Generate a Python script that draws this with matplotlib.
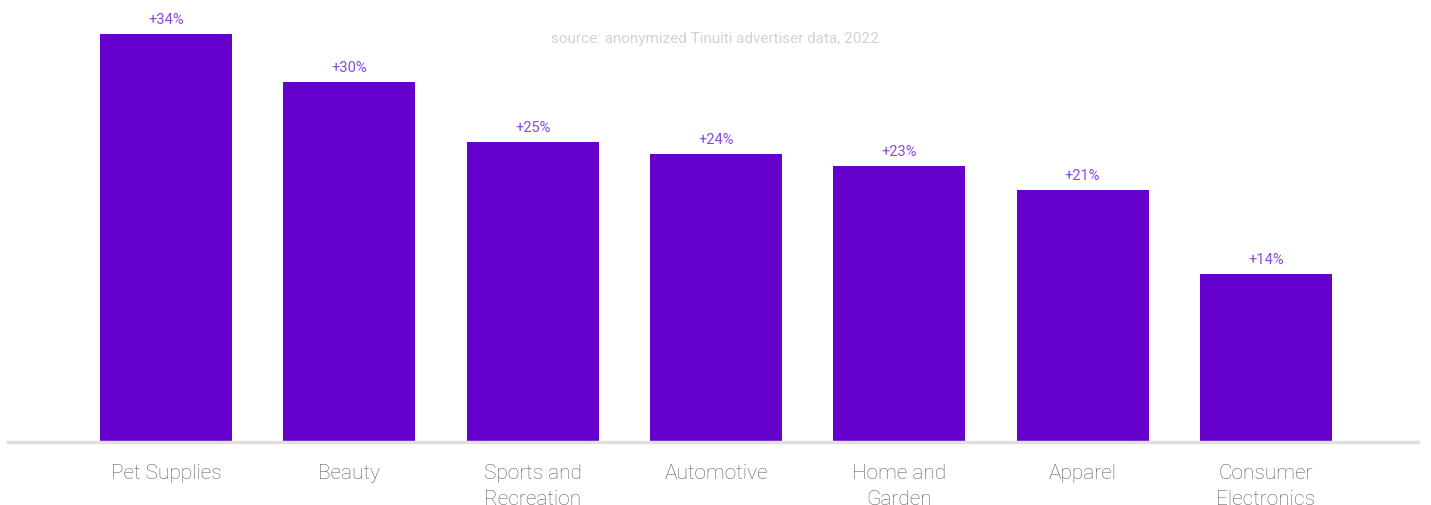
import numpy as np
import matplotlib.pyplot as plt

categories = ["Pet Supplies", "Beauty", "Sports and\nRecreation", "Automotive",
              "Home and\nGarden", "Apparel", "Consumer\nElectronics"]
growth = [34, 30, 25, 24, 23, 21, 14]

plt.rcParams['font.family'] = ['Roboto', 'DejaVu Sans']

fig = plt.figure(figsize=(14.31, 5.06), dpi=100)
ax = fig.add_axes([0, 1 - 443 / 506, 1, 443 / 506])

x = np.arange(len(categories))
bars = ax.bar(x, growth, width=0.72, color='#6600cc', zorder=2)

for b, v in zip(bars, growth):
    ax.annotate(f"+{v}%", (b.get_x() + b.get_width() / 2, v),
                xytext=(0, 6), textcoords='offset points', ha='center', va='bottom',
                fontsize=10.5, color='#8c48e2')

step = 183.33
ax.set_xlim(-166 / step, (1431 - 166) / step)
ax.set_ylim(0, 36.92)
ax.set_xticks(x)
ax.set_xticklabels(categories, fontsize=15, color='#5e5e5e', fontweight='light',
                   linespacing=1.45)
ax.tick_params(axis='x', length=0, pad=15)
ax.set_yticks([])
for s in ['top', 'right', 'left']:
    ax.spines[s].set_visible(False)
ax.spines['bottom'].set_color('#e0e0e0')
ax.spines['bottom'].set_linewidth(2.5)
ax.spines['bottom'].set_bounds((8 - 166) / step, (1418 - 166) / step)

fig.text(715 / 1431, 1 - 39 / 506, "source: anonymized Tinuiti advertiser data, 2022",
         ha='center', va='center', fontsize=11, color='#d2d2d2')

fig.savefig("out.png", dpi=100)
